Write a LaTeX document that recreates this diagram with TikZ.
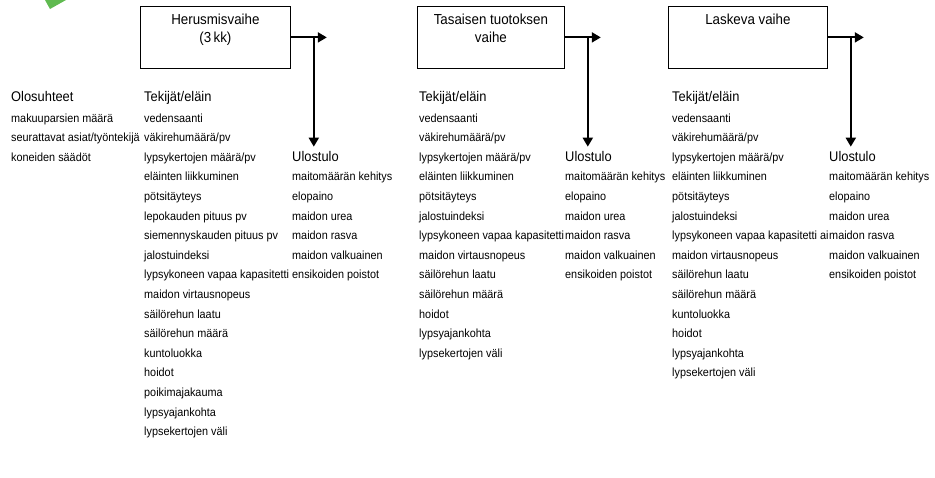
\documentclass[tikz,border=0pt]{standalone}
\usepackage{fontspec}
\setmainfont{Liberation Sans}[FakeStretch=0.92]
\usetikzlibrary{arrows.meta,calc}
\definecolor{leafgreen}{RGB}{96,186,80}
\tikzset{
  phase/.style={draw,line width=.8pt,inner sep=0pt,anchor=north west},
  head/.style={anchor=base west,inner sep=0pt,font=\fontsize{14}{16}\selectfont},
  item/.style={anchor=base west,inner sep=0pt,font=\fontsize{11.8}{14}\selectfont},
  flow/.style={line width=2pt,-{Triangle[length=9pt,width=10pt]}}
}
\newcommand\phasetext[2]{\parbox[t][62pt][t]{#1}{\centering\fontsize{14.5}{17.5}\selectfont\rule{0pt}{18.5pt}#2}}

\begin{document}
\begin{tikzpicture}[x=1pt,y=-1pt]
\useasboundingbox(0,0)rectangle(935,477);
\fill[leafgreen](45,0)--(66,0)--(50,9)--cycle;
% phases
\node[phase](p1)at(140,6){\phasetext{150pt}{Herusmisvaihe\\(3\,kk)}};
\node[phase](p2)at(417,6){\phasetext{147pt}{Tasaisen tuotoksen\\vaihe}};
\node[phase](p3)at(668,6){\phasetext{159pt}{Laskeva vaihe}};
% conditions
\node[head](o0)at(11,101.5){Olosuhteet};
\foreach \t[count=\i] in {makuuparsien määrä,seurattavat asiat/työntekijä,koneiden säädöt}
  \node[item](o\i)at(11,122+19.6*\i-19.6){\t};
% factors per animal
\node[head](ta0)at(144,101.5){Tekijät/eläin};
\foreach \t[count=\i] in {vedensaanti,väkirehumäärä/pv,lypsykertojen määrä/pv,eläinten liikkuminen,pötsitäyteys,lepokauden pituus pv,siemennyskauden pituus pv,jalostuindeksi,lypsykoneen vapaa kapasitetti,maidon virtausnopeus,säilörehun laatu,säilörehun määrä,kuntoluokka,hoidot,poikimajakauma,lypsyajankohta,lypsekertojen väli}
  \node[item](ta\i)at(144,122+19.6*\i-19.6){\t};
\node[head](tb0)at(419,101.5){Tekijät/eläin};
\foreach \t[count=\i] in {vedensaanti,väkirehumäärä/pv,lypsykertojen määrä/pv,eläinten liikkuminen,pötsitäyteys,jalostuindeksi,lypsykoneen vapaa kapasitetti,maidon virtausnopeus,säilörehun laatu,säilörehun määrä,hoidot,lypsyajankohta,lypsekertojen väli}
  \node[item](tb\i)at(419,122+19.6*\i-19.6){\t};
\node[head](tc0)at(672,101.5){Tekijät/eläin};
\foreach \t[count=\i] in {vedensaanti,väkirehumäärä/pv,lypsykertojen määrä/pv,eläinten liikkuminen,pötsitäyteys,jalostuindeksi,lypsykoneen vapaa kapasitetti ai,maidon virtausnopeus,säilörehun laatu,säilörehun määrä,kuntoluokka,hoidot,lypsyajankohta,lypsekertojen väli}
  \node[item](tc\i)at(672,122+19.6*\i-19.6){\t};
% outputs
\foreach \c/\x in {a/292,b/565,c/829}{
  \node[head](u\c0)at(\x,161){Ulostulo};
  \foreach \t[count=\i] in {maitomäärän kehitys,elopaino,maidon urea,maidon rasva,maidon valkuainen,ensikoiden poistot}
    \node[item](u\c\i)at(\x,122+19.6*\i+39.2){\t};
}
% arrows
\foreach \p/\c in {1/a,2/b,3/c}{
  \coordinate(d\c)at($(p\p.east)+(23,0)$);
  \draw[flow](p\p.east)--++(36,0);
  \draw[flow](d\c)--([yshift=4pt]d\c|-u\c0.north);
}
\end{tikzpicture}
\end{document}
